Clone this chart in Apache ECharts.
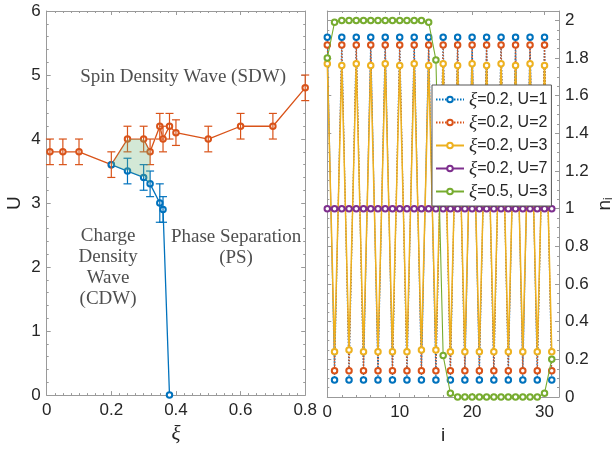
<!DOCTYPE html>
<html>
<head>
<meta charset="utf-8">
<script src="https://cdn.jsdelivr.net/npm/echarts@6/dist/echarts.min.js"></script>
<style>html,body{margin:0;padding:0;background:#fff}#c{width:616px;height:450px}</style>
</head>
<body>
<div id="c"></div>
<script>
// ---------- Left panel: phase diagram ----------
const sdwXi  = [0.01, 0.05, 0.10, 0.20, 0.25, 0.30, 0.32, 0.35, 0.36, 0.38, 0.40, 0.50, 0.60, 0.70, 0.80];
const sdwU   = [3.8,  3.8,  3.8,  3.6,  4.0,  4.0,  3.8,  4.2,  4.0,  4.2,  4.1,  4.0,  4.2,  4.2,  4.8];
const sdwErr = [0.2,  0.2,  0.2,  0.2,  0.2,  0.2,  0.2,  0.2,  0.2,  0.2,  0.2,  0.2,  0.2,  0.2,  0.2];

const cdwXi  = [0.20, 0.25, 0.30, 0.32, 0.35, 0.36, 0.38];
const cdwU   = [3.6,  3.5,  3.4,  3.3,  3.0,  2.9,  0.0];
const cdwErr = [0,    0.2,  0.2,  0.2,  0.3,  0.2,  0];

const regionXi = [0.20, 0.32]; // shaded coexistence region between the two boundaries

const annotations = [
  {xi: 0.422, u: 4.97, text: 'Spin Density Wave (SDW)'},
  {xi: 0.190, u: 2.00, text: 'Charge\nDensity\nWave\n(CDW)'},
  {xi: 0.586, u: 2.30, text: 'Phase Separation\n(PS)'}
];

const leftXTicks = {min: 0, max: 0.8, interval: 0.2};
const leftYTicks = {min: 0, max: 6, interval: 1};

// ---------- Right panel: site occupations ----------
const sites = [0,1,2,3,4,5,6,7,8,9,10,11,12,13,14,15,16,17,18,19,20,21,22,23,24,25,26,27,28,29,30,31];
const nU1 = [1.91,0.09,1.91,0.09,1.91,0.09,1.91,0.09,1.91,0.09,1.91,0.09,1.91,0.09,1.91,0.09,
             1.91,0.09,1.91,0.09,1.91,0.09,1.91,0.09,1.91,0.09,1.91,0.09,1.91,0.09,1.91,0.09];
const nU2 = [1.87,0.14,1.87,0.14,1.87,0.14,1.87,0.14,1.87,0.14,1.87,0.14,1.87,0.14,1.87,0.14,
             1.87,0.14,1.87,0.14,1.87,0.14,1.87,0.14,1.87,0.14,1.87,0.14,1.87,0.14,1.87,0.14];
const nU3 = [1.77,0.24,1.76,0.25,1.77,0.24,1.76,0.24,1.77,0.24,1.76,0.24,1.77,0.25,1.76,0.25,
             1.77,0.24,1.76,0.24,1.77,0.24,1.76,0.24,1.77,0.24,1.76,0.24,1.77,0.24,1.76,0.24];
const nU7 = [1,1,1,1,1,1,1,1,1,1,1,1,1,1,1,1,1,1,1,1,1,1,1,1,1,1,1,1,1,1,1,1];
const nXi5 = [1.80,1.99,2.00,2.00,2.00,2.00,2.00,2.00,2.00,2.00,2.00,2.00,2.00,2.00,1.99,1.79,
              0.22,0.02,0.00,0.00,0.00,0.00,0.00,0.00,0.00,0.00,0.00,0.00,0.00,0.00,0.02,0.20];
const rightErr = [0.004, 0.004, 0.004, 0.0, 0.004];
const rightNames = ['ξ=0.2, U=1','ξ=0.2, U=2','ξ=0.2, U=3','ξ=0.2, U=7','ξ=0.5, U=3'];
const rightSeries = [nU1, nU2, nU3, nU7, nXi5];
const rightDashed = [true, true, false, false, false];

const rightXTicks = {min: 0, max: 32, interval: 10};
const rightYTicks = {min: 0, max: 2.05, interval: 0.2};

// ---------- styling ----------
const colors = ['#0072BD', '#D95319', '#EDB120', '#7E2F8E', '#77AC30'];
const AX = '#9a9a9a';
const TXT = '#262626';
const SANS = '"Liberation Sans", Arial, sans-serif';
const SERIF = '"Liberation Serif", "DejaVu Serif", serif';

function errRender(color, capHalf, lw) {
  return function (params, api) {
    const x = api.value(0), y = api.value(1), e = api.value(2);
    const a = api.coord([x, y - e]);
    const b = api.coord([x, y + e]);
    const st = {stroke: color, lineWidth: lw};
    return {type: 'group', children: [
      {type: 'line', shape: {x1: a[0], y1: a[1], x2: b[0], y2: b[1]}, style: st},
      {type: 'line', shape: {x1: a[0]-capHalf, y1: a[1], x2: a[0]+capHalf, y2: a[1]}, style: st},
      {type: 'line', shape: {x1: b[0]-capHalf, y1: b[1], x2: b[0]+capHalf, y2: b[1]}, style: st}
    ]};
  };
}

function mainAxis(extra) {
  return Object.assign({
    type: 'value',
    axisLine: {show: true, onZero: false, lineStyle: {color: AX, width: 1}},
    axisTick: {show: true, inside: true, length: 4, lineStyle: {color: AX}},
    minorTick: {show: true, length: 2, lineStyle: {color: AX}},
    splitLine: {show: false},
    axisLabel: {color: TXT, fontSize: 17, fontFamily: SANS, margin: 6}
  }, extra);
}
function mirrorAxis(extra) {
  return Object.assign({
    type: 'value',
    axisLine: {show: true, onZero: false, lineStyle: {color: AX, width: 1}},
    axisTick: {show: true, inside: true, length: 4, lineStyle: {color: AX}},
    minorTick: {show: true, length: 2, lineStyle: {color: AX}},
    splitLine: {show: false},
    axisLabel: {show: false}
  }, extra);
}

const series = [];

// shaded region (left panel)
const regRed = [], regBlue = [];
sdwXi.forEach((x, k) => { if (x >= regionXi[0] && x <= regionXi[1]) regRed.push([x, sdwU[k]]); });
cdwXi.forEach((x, k) => { if (x >= regionXi[0] && x <= regionXi[1]) regBlue.push([x, cdwU[k]]); });
const regionPoly = regRed.concat(regBlue.slice().reverse());

series.push({
  type: 'line', xAxisIndex: 0, yAxisIndex: 0, z: 2,
  data: sdwXi.map((x, k) => [x, sdwU[k]]),
  lineStyle: {color: colors[1], width: 1.3}, itemStyle: {color: colors[1], borderWidth: 1},
  symbol: 'emptyCircle', symbolSize: 5.5, showSymbol: true, silent: true
});
series.push({
  type: 'custom', xAxisIndex: 0, yAxisIndex: 0, z: 3,
  data: sdwXi.map((x, k) => [x, sdwU[k], sdwErr[k]]),
  renderItem: errRender(colors[1], 4, 1.2), silent: true
});
series.push({
  type: 'line', xAxisIndex: 0, yAxisIndex: 0, z: 2,
  data: cdwXi.map((x, k) => [x, cdwU[k]]),
  lineStyle: {color: colors[0], width: 1.3}, itemStyle: {color: colors[0], borderWidth: 1},
  symbol: 'emptyCircle', symbolSize: 5.5, showSymbol: true, silent: true
});
series.push({
  type: 'custom', xAxisIndex: 0, yAxisIndex: 0, z: 3,
  data: cdwXi.map((x, k) => [x, cdwU[k], cdwErr[k]]).filter(d => d[2] > 0),
  renderItem: errRender(colors[0], 4, 1.2), silent: true
});
series.push({
  type: 'custom', xAxisIndex: 0, yAxisIndex: 0, z: 5,
  data: [0],
  renderItem: function (params, api) {
    const pts = regionPoly.map(p => api.coord(p));
    return {type: 'polygon', shape: {points: pts}, style: {fill: 'rgba(110,180,120,0.30)', stroke: 'none'}};
  }, silent: true
});
series.push({
  type: 'scatter', xAxisIndex: 0, yAxisIndex: 0, z: 6, symbolSize: 0,
  data: annotations.map(a => ({value: [a.xi, a.u], label: {formatter: a.text}})),
  label: {show: true, position: 'inside', color: '#222', fontSize: 19, fontFamily: SERIF, lineHeight: 21, align: 'center', verticalAlign: 'middle'},
  silent: true
});

// right panel
rightSeries.forEach((vals, s) => {
  series.push({
    name: rightNames[s], type: 'line', xAxisIndex: 1, yAxisIndex: 2, z: 2 + s,
    data: sites.map((i, k) => [i, vals[k]]),
    lineStyle: {color: colors[s], width: s === 2 ? 1.5 : 1.1, type: rightDashed[s] ? [1.5, 1.5] : 'solid'},
    itemStyle: {color: colors[s], borderWidth: 1.1},
    symbol: 'emptyCircle', symbolSize: 5.5, showSymbol: true, silent: true
  });
  series.push({
    type: 'custom', xAxisIndex: 1, yAxisIndex: 2, z: 2 + s,
    data: sites.map((i, k) => [i, vals[k], rightErr[s]]),
    renderItem: errRender(colors[s], 3, 1.1), silent: true
  });
});

const option = {
  animation: false,
  backgroundColor: '#fff',
  grid: [
    {left: 46.7, top: 11, width: 258.5, height: 386, containLabel: false},
    {left: 327.3, top: 11, width: 238, height: 386, containLabel: false}
  ],
  xAxis: [
    mainAxis(Object.assign({gridIndex: 0, position: 'bottom', minorTick: {show: true, splitNumber: 8, length: 2, lineStyle: {color: AX}},
      name: 'ξ', nameLocation: 'middle', nameGap: 25,
      nameTextStyle: {color: TXT, fontSize: 21, fontFamily: SERIF, fontStyle: 'italic'},
      axisLabel: {color: TXT, fontSize: 17, fontFamily: SANS, margin: 7}}, leftXTicks)),
    mainAxis(Object.assign({gridIndex: 1, position: 'bottom', minorTick: {show: true, splitNumber: 5, length: 2, lineStyle: {color: AX}},
      name: 'i', nameLocation: 'middle', nameGap: 26,
      nameTextStyle: {color: TXT, fontSize: 19, fontFamily: SANS},
      axisLabel: {color: TXT, fontSize: 17, fontFamily: SANS, margin: 7, showMaxLabel: false}}, rightXTicks)),
    mirrorAxis(Object.assign({gridIndex: 0, position: 'top', minorTick: {show: true, splitNumber: 8, length: 2, lineStyle: {color: AX}}}, leftXTicks)),
    mirrorAxis(Object.assign({gridIndex: 1, position: 'top', minorTick: {show: true, splitNumber: 5, length: 2, lineStyle: {color: AX}}}, rightXTicks))
  ],
  yAxis: [
    mainAxis(Object.assign({gridIndex: 0, position: 'left', minorTick: {show: true, splitNumber: 5, length: 2, lineStyle: {color: AX}},
      name: 'U', nameLocation: 'middle', nameGap: 22, nameRotate: 90,
      nameTextStyle: {color: TXT, fontSize: 19, fontFamily: SANS}}, leftYTicks)),
    mirrorAxis(Object.assign({gridIndex: 0, position: 'right', minorTick: {show: true, splitNumber: 5, length: 2, lineStyle: {color: AX}}}, leftYTicks)),
    mainAxis(Object.assign({gridIndex: 1, position: 'right', minorTick: {show: true, splitNumber: 4, length: 2, lineStyle: {color: AX}},
      name: '{n|n}{s|i}', nameLocation: 'middle', nameGap: 36, nameRotate: 90,
      nameTextStyle: {color: TXT, rich: {n: {fontSize: 19, fontFamily: SANS, color: TXT}, s: {fontSize: 12, fontFamily: SANS, color: TXT, verticalAlign: 'bottom', padding: [8, 0, 0, 0]}}},
      axisLabel: {color: TXT, fontSize: 17, fontFamily: SANS, margin: 6, showMaxLabel: false}}, rightYTicks)),
    mirrorAxis(Object.assign({gridIndex: 1, position: 'left', minorTick: {show: true, splitNumber: 4, length: 2, lineStyle: {color: AX}}}, rightYTicks))
  ],
  legend: {
    show: true, orient: 'vertical', left: 432, top: 85, z: 100, zlevel: 0,
    data: rightNames,
    backgroundColor: '#fff', borderColor: '#555', borderWidth: 1,
    padding: [5, 4, 5, 3], itemGap: 4, itemWidth: 28, itemHeight: 7,
    formatter: name => '{g|ξ}{t|' + name.slice(1) + '}',
    textStyle: {rich: {
      g: {fontSize: 19, fontFamily: SERIF, fontStyle: 'italic', color: TXT},
      t: {fontSize: 16, fontFamily: SANS, color: TXT}
    }},
    selectedMode: false
  },
  series: series
};

const chart = echarts.init(document.getElementById('c'), null, {renderer: 'canvas'});
chart.setOption(option);
</script>
</body>
</html>
